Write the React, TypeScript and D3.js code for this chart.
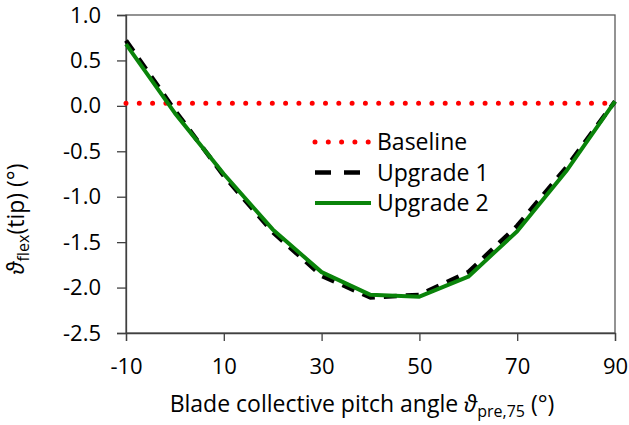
import { useEffect, useRef } from 'react';
import * as d3 from 'd3';

const pitch = [-10, 0, 10, 20, 30, 40, 50, 60, 70, 80, 90];
const baseline = [0.03, 0.03, 0.03, 0.03, 0.03, 0.03, 0.03, 0.03, 0.03, 0.03, 0.03];
const upgrade1 = [0.72, -0.05, -0.77, -1.39, -1.87, -2.11, -2.08, -1.83, -1.32, -0.68, 0.05];
const upgrade2 = [0.68, -0.08, -0.75, -1.36, -1.83, -2.08, -2.10, -1.88, -1.38, -0.72, 0.05];
const xTicks = [-10, 10, 30, 50, 70, 90];
const yTicks = [1.0, 0.5, 0.0, -0.5, -1.0, -1.5, -2.0, -2.5];
const seriesNames = ['Baseline', 'Upgrade 1', 'Upgrade 2'];

const FONT = '"Open Sans", "Noto Sans", sans-serif';

const App = () => {
  const svgRef = useRef<SVGSVGElement>(null);

  useEffect(() => {
    const w = 629;
    const h = 425;
    const margin = { top: 15, right: 14, bottom: 92, left: 126 };
    const width = w - margin.left - margin.right;
    const height = h - margin.top - margin.bottom;

    const svg = d3.select(svgRef.current);
    svg.selectAll('*').remove();
    svg.attr('width', w).attr('height', h);

    const x = d3.scaleLinear().domain([-10, 90]).range([0, width]);
    const y = d3.scaleLinear().domain([-2.5, 1]).range([height, 0]);

    const g = svg.append('g').attr('transform', `translate(${margin.left},${margin.top})`);

    // frame
    g.append('rect')
      .attr('x', 0).attr('y', 0)
      .attr('width', width).attr('height', height)
      .attr('fill', 'none')
      .attr('stroke', '#595959')
      .attr('stroke-width', 1.3);

    // axes
    const xAxis = g.append('g')
      .attr('transform', `translate(0,${height})`)
      .call(d3.axisBottom(x).tickValues(xTicks).tickSize(8).tickPadding(17));
    const yAxis = g.append('g')
      .call(d3.axisLeft(y).tickValues(yTicks).tickSize(9).tickPadding(16));
    [xAxis, yAxis].forEach(a => {
      a.select('.domain').attr('stroke', '#404040').attr('stroke-width', 1.3);
      a.selectAll('.tick line').attr('stroke', '#404040').attr('stroke-width', 1.3);
      a.selectAll('.tick text')
        .attr('fill', '#000')
        .style('font-family', FONT)
        .style('font-size', '22px');
    });
    yAxis.selectAll('.tick text').text((d: any) => d3.format('.1f')(d).replace('−', '-'));
    xAxis.selectAll('.tick text').text((d: any) => String(d));

    const line = d3.line<number>()
      .x((_, i) => x(pitch[i]))
      .y(d => y(d));

    // series
    g.append('path')
      .attr('d', line(baseline))
      .attr('fill', 'none')
      .attr('stroke', '#ff0000')
      .attr('stroke-width', 5)
      .attr('stroke-linecap', 'round')
      .attr('stroke-dasharray', '0 13.3');
    g.append('path')
      .attr('d', line(upgrade1))
      .attr('fill', 'none')
      .attr('stroke', '#000')
      .attr('stroke-width', 4.5)
      .attr('stroke-dasharray', '13 9');
    g.append('path')
      .attr('d', line(upgrade2))
      .attr('fill', 'none')
      .attr('stroke', '#0a840a')
      .attr('stroke-width', 4)
      .attr('stroke-linejoin', 'round');

    // legend
    const legend = svg.append('g').attr('transform', 'translate(313,142)');
    const styles = [
      { stroke: '#ff0000', width: 5, dash: '0 13.3', cap: 'round' },
      { stroke: '#000', width: 4.5, dash: '16 13', cap: 'butt' },
      { stroke: '#0a840a', width: 4, dash: null, cap: 'butt' },
    ];
    seriesNames.forEach((name, i) => {
      const row = legend.append('g').attr('transform', `translate(0,${i * 30.5})`);
      row.append('line')
        .attr('x1', 2).attr('x2', 58)
        .attr('y1', 0).attr('y2', 0)
        .attr('stroke', styles[i].stroke)
        .attr('stroke-width', styles[i].width)
        .attr('stroke-linecap', styles[i].cap)
        .attr('stroke-dasharray', styles[i].dash);
      row.append('text')
        .attr('x', 64).attr('y', 0)
        .attr('dy', '0.36em')
        .style('font-family', FONT)
        .style('font-size', '23px')
        .text(name);
    });

    // x axis title
    const xt = svg.append('text')
      .attr('x', 362).attr('y', 412)
      .attr('text-anchor', 'middle')
      .style('font-family', FONT)
      .style('font-size', '23px');
    xt.append('tspan').text('Blade collective pitch angle ');
    xt.append('tspan').style('font-style', 'italic').text('ϑ');
    xt.append('tspan').attr('dy', 5).style('font-size', '16px').text('pre,75');
    xt.append('tspan').attr('dy', -5).text(' (°)');

    // y axis title
    const yt = svg.append('text')
      .attr('transform', 'translate(24,219) rotate(-90)')
      .attr('text-anchor', 'middle')
      .style('font-family', FONT)
      .style('font-size', '23px');
    yt.append('tspan').style('font-style', 'italic').text('ϑ');
    yt.append('tspan').attr('dy', 5).style('font-size', '16px').text('flex');
    yt.append('tspan').attr('dy', -5).text('(tip) (°)');
  }, []);

  return (
    <svg ref={svgRef} style={{ position: 'absolute', left: 0, top: 0, background: '#fff' }}></svg>
  );
};

export default App;
